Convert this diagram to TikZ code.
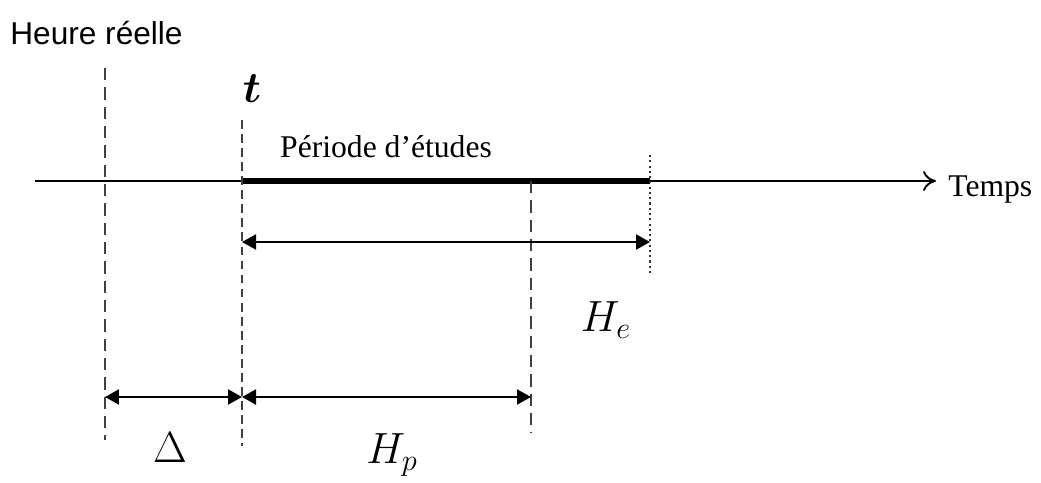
\documentclass[tikz,border=0pt]{standalone}
\usepackage{amsmath,amssymb}
\usepackage{bm}
\usepackage{fontspec}
\newfontfamily\arialfont{Liberation Sans}
\newfontfamily\timesfont{Liberation Serif}
\usepackage{tikz}
\usetikzlibrary{arrows.meta,positioning}

\begin{document}
\begin{tikzpicture}[
    x=0.02cm, y=-0.02cm,
    guide/.style={draw=black!75, line width=1pt, dash pattern=on 7pt off 4pt},
    guideshort/.style={draw=black!75, line width=1pt, dash pattern=on 5pt off 3pt},
    dotline/.style={draw=black!80, line width=1pt, dash pattern=on 1.2pt off 1.8pt},
    span/.style={{Triangle[length=2.8mm,width=3mm]}-{Triangle[length=2.8mm,width=3mm]}, line width=1.2pt},
    axis/.style={-{Computer Modern Rightarrow[length=2.6mm,width=4mm]}, line width=1.1pt},
    lbl/.style={inner sep=0pt, font=\timesfont\fontsize{18}{20}\selectfont},
    mth/.style={inner sep=0pt, font=\fontsize{25}{28}\selectfont}
  ]
    \useasboundingbox (0,0) rectangle (1041,483);
    % axis and time marks
    \coordinate (a0) at (35,181);
    \coordinate (a1) at (936,181);
    \coordinate (now) at (242,181);
    \coordinate (he) at (650,181);
    \draw[axis] (a0) -- (a1);
    \draw[line width=3.6pt] (now) -- (he);
    \node[lbl, anchor=west] (temps) at (948,190) {Temps};
    \node[inner sep=0pt, anchor=west, font=\arialfont\fontsize{18}{20}\selectfont] (heure) at (10,33) {Heure réelle};
    \node[lbl] (etude) at (386,147) {Période d’études};
    \node[inner sep=0pt, font=\fontsize{32}{36}\selectfont] (t) at (252,89) {$\bm{t}$};
    % vertical guides
    \coordinate (d0) at (105,68);  \coordinate (d1) at (105,440);
    \coordinate (t0) at (242,120); \coordinate (t1) at (242,446);
    \coordinate (p0) at (531,181); \coordinate (p1) at (531,433);
    \coordinate (e0) at (650,155); \coordinate (e1) at (650,276);
    \draw[guide] (d0) -- (d1);
    \draw[guideshort] (t0) -- (t1);
    \draw[guide] (p0) -- (p1);
    \draw[dotline] (e0) -- (e1);
    % spans
    \coordinate (s1) at (242,242); \coordinate (s2) at (650,242);
    \coordinate (r1) at (105,397); \coordinate (r2) at (242,397);
    \coordinate (r3) at (531,397);
    \draw[span] (s1) -- (s2);
    \draw[span] (r1) -- (r2);
    \draw[span] (r2) -- (r3);
    \node[mth] (lhe) at (606,320) {$H_e$};
    \node[mth] (ldelta) at (170,448) {$\Delta$};
    \node[mth] (lhp) at (392,455) {$H_p$};
  \end{tikzpicture}
\end{document}
